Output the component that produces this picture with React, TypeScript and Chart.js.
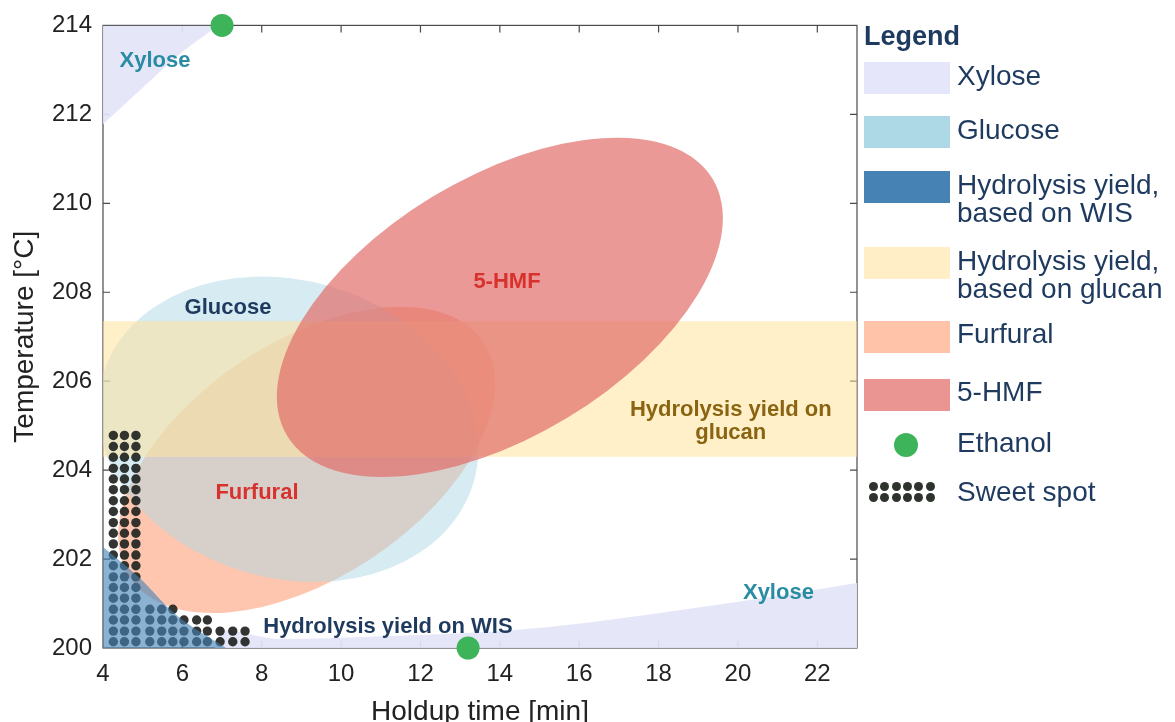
import React, { useEffect, useRef } from "react";
import { Chart, registerables } from "chart.js";

Chart.register(...registerables);

const FONT = "'Liberation Sans', Arial, Helvetica, sans-serif";

// axes
const X_RANGE = [4, 23];
const Y_RANGE = [200, 214];
const X_TICKS = [4, 6, 8, 10, 12, 14, 16, 18, 20, 22];
const Y_TICKS = [200, 202, 204, 206, 208, 210, 212, 214];

// Xylose regions
const XYLOSE_TOP_X = [4, 5, 6, 6.9];
const XYLOSE_TOP_Y = [211.78, 212.6, 213.4, 214];
const XYLOSE_BOTTOM_X = [6.8, 7.0, 8.5, 11.2, 14.3, 16.3, 18.2, 20.6, 23];
const XYLOSE_BOTTOM_Y = [200.0, 200.4, 200.2, 200.27, 200.4, 200.58, 200.81, 201.12, 201.46];

// Hydrolysis yield on WIS region
const WIS_X = [4, 4.89, 5.9, 7.1];
const WIS_Y = [202.27, 201.6, 200.7, 200.0];

// Hydrolysis yield on glucan band (temperature range)
const GLUCAN_BAND = [204.3, 207.35];

// ellipses: centre, end of major axis, end of minor axis
const ELLIPSE_NAMES = ["Furfural", "Glucose", "5-HMF"];
const ELLIPSE_CX = [9.13, 8.66, 14.0];
const ELLIPSE_CY = [204.23, 204.92, 207.66];
const ELLIPSE_MAJ_X = [13.58, 13.34, 19.36];
const ELLIPSE_MAJ_Y = [206.88, 203.73, 210.55];
const ELLIPSE_MIN_X = [10.79, 7.62, 15.69];
const ELLIPSE_MIN_Y = [202.03, 201.7, 205.17];
const ELLIPSE_COLORS = ["rgba(255,160,122,0.6)", "rgba(173,216,230,0.5)", "rgba(225,110,105,0.7)"];

// Ethanol optimum points
const ETHANOL_X = [7.0, 13.2];
const ETHANOL_Y = [214, 200];

// Sweet spot dot grid
const SWEET_X = [4.26, 4.54, 4.83, 5.18, 5.48, 5.76, 6.04, 6.36, 6.63, 6.95, 7.27, 7.58];
const SWEET_ROWS = [20, 20, 20, 4, 4, 4, 3, 3, 3, 2, 2, 2];
const SWEET_Y = [
  200.14, 200.38, 200.63, 200.87, 201.12, 201.36, 201.6, 201.85, 202.09, 202.34,
  202.58, 202.82, 203.07, 203.31, 203.56, 203.8, 204.04, 204.29, 204.53, 204.78,
];

// in-plot labels
const LABEL_TEXT = [
  ["Xylose"],
  ["Glucose"],
  ["5-HMF"],
  ["Furfural"],
  ["Hydrolysis yield on", "glucan"],
  ["Hydrolysis yield on WIS"],
  ["Xylose"],
];
const LABEL_X = [5.31, 7.15, 14.18, 7.88, 19.82, 11.18, 21.02];
const LABEL_Y = [213.2, 207.65, 208.23, 203.49, 205.1, 200.47, 201.23];
const LABEL_COLORS = ["#2a8ca2", "#1f3a5f", "#d8322e", "#d8322e", "#8a6410", "#1f3a5f", "#2a8ca2"];

// legend
const LEGEND_LABELS = [
  ["Xylose"],
  ["Glucose"],
  ["Hydrolysis yield,", "based on WIS"],
  ["Hydrolysis yield,", "based on glucan"],
  ["Furfural"],
  ["5-HMF"],
  ["Ethanol"],
  ["Sweet spot"],
];
const LEGEND_COLORS = ["#e6e6fa", "#add8e6", "#4682b4", "#ffeec6", "#ffc3aa", "#ea9592", "#3db35a", "#2e332e"];

const pts = (xs: number[], ys: number[]) => xs.map((x, i) => ({ x, y: ys[i] }));

export default function App() {
  const ref = useRef<HTMLCanvasElement | null>(null);

  useEffect(() => {
    const canvas = ref.current;
    if (!canvas) return;

    const sweet: { x: number; y: number }[] = [];
    SWEET_X.forEach((x, i) => {
      SWEET_Y.slice(0, SWEET_ROWS[i]).forEach((y) => sweet.push({ x, y }));
    });

    const framePlugin = {
      id: "frame",
      beforeDatasetsDraw(chart: any) {
        const { ctx, chartArea: a, scales } = chart;
        ctx.save();
        ctx.strokeStyle = "#4a4a4a";
        ctx.lineWidth = 1.2;
        ctx.strokeRect(a.left, a.top, a.right - a.left, a.bottom - a.top);
        ctx.beginPath();
        const tl = 7;
        X_TICKS.forEach((v) => {
          const p = scales.x.getPixelForValue(v);
          if (p <= a.left + 1 || p >= a.right - 1) return;
          ctx.moveTo(p, a.top);
          ctx.lineTo(p, a.top + tl);
          ctx.moveTo(p, a.bottom);
          ctx.lineTo(p, a.bottom - tl);
        });
        Y_TICKS.forEach((v) => {
          const p = scales.y.getPixelForValue(v);
          if (p <= a.top + 1 || p >= a.bottom - 1) return;
          ctx.moveTo(a.left, p);
          ctx.lineTo(a.left + tl, p);
          ctx.moveTo(a.right, p);
          ctx.lineTo(a.right - tl, p);
        });
        ctx.stroke();
        ctx.restore();
      },
    };

    const regionsPlugin = {
      id: "regions",
      afterDatasetDraw(chart: any, args: any) {
        if (args.index !== 1) return; // right after the bottom xylose region
        const { ctx, chartArea: a, scales } = chart;
        const px = (v: number) => scales.x.getPixelForValue(v);
        const py = (v: number) => scales.y.getPixelForValue(v);
        ctx.save();
        ctx.beginPath();
        ctx.rect(a.left, a.top, a.right - a.left, a.bottom - a.top);
        ctx.clip();
        const drawEllipse = (i: number) => {
          const cx = px(ELLIPSE_CX[i]);
          const cy = py(ELLIPSE_CY[i]);
          const ux = px(ELLIPSE_MAJ_X[i]) - cx;
          const uy = py(ELLIPSE_MAJ_Y[i]) - cy;
          const vx = px(ELLIPSE_MIN_X[i]) - cx;
          const vy = py(ELLIPSE_MIN_Y[i]) - cy;
          ctx.save();
          ctx.transform(ux, uy, vx, vy, cx, cy);
          ctx.beginPath();
          ctx.arc(0, 0, 1, 0, Math.PI * 2);
          ctx.restore();
          ctx.fillStyle = ELLIPSE_COLORS[i];
          ctx.fill();
        };
        drawEllipse(0);
        drawEllipse(1);
        // glucan band
        const yt = py(GLUCAN_BAND[1]);
        const yb = py(GLUCAN_BAND[0]);
        ctx.fillStyle = "rgba(255,228,159,0.55)";
        ctx.fillRect(a.left, yt, a.right - a.left, yb - yt);
        drawEllipse(2);
        ctx.restore();
      },
    };

    const labelsPlugin = {
      id: "labels",
      afterDatasetsDraw(chart: any) {
        const { ctx, scales } = chart;
        ctx.save();
        ctx.font = `bold 22px ${FONT}`;
        ctx.textAlign = "center";
        ctx.textBaseline = "middle";
        LABEL_TEXT.forEach((lines, i) => {
          const x = scales.x.getPixelForValue(LABEL_X[i]);
          const y = scales.y.getPixelForValue(LABEL_Y[i]);
          ctx.fillStyle = LABEL_COLORS[i];
          const lh = 23;
          lines.forEach((t, j) => {
            ctx.fillText(t, x, y + (j - (lines.length - 1) / 2) * lh);
          });
        });
        ctx.restore();
      },
    };

    const chart = new Chart(canvas, {
      type: "line",
      data: {
        datasets: [
          {
            label: "Xylose top",
            data: pts(XYLOSE_TOP_X, XYLOSE_TOP_Y),
            fill: "end",
            backgroundColor: "rgba(228,228,249,0.93)",
            borderWidth: 0,
            pointRadius: 0,
            tension: 0.3,
            order: 10,
          },
          {
            label: "Xylose bottom",
            data: pts(XYLOSE_BOTTOM_X, XYLOSE_BOTTOM_Y),
            fill: "start",
            backgroundColor: "rgba(228,228,249,0.93)",
            borderWidth: 0,
            pointRadius: 0,
            cubicInterpolationMode: "monotone",
            order: 9,
          },
          {
            label: "Sweet spot",
            type: "scatter",
            data: sweet,
            backgroundColor: "rgba(34,38,34,0.93)",
            borderWidth: 0,
            pointRadius: 4.7,
            showLine: false,
            order: 3,
          },
          {
            label: "Hydrolysis yield, based on WIS",
            data: pts(WIS_X, WIS_Y),
            fill: "start",
            backgroundColor: "rgba(70,130,180,0.62)",
            borderWidth: 0,
            pointRadius: 0,
            tension: 0.35,
            order: 2,
          },
          {
            label: "Ethanol",
            type: "scatter",
            data: pts(ETHANOL_X, ETHANOL_Y),
            backgroundColor: "#3db35a",
            borderWidth: 0,
            pointRadius: 11.5,
            clip: false as any,
            order: 1,
          },
        ] as any,
      },
      options: {
        animation: false,
        responsive: false,
        events: [],
        layout: { padding: { top: 22, right: 318, bottom: 0, left: 0 } },
        plugins: {
          legend: { display: false },
          tooltip: { enabled: false },
        },
        scales: {
          x: {
            type: "linear",
            min: X_RANGE[0],
            max: X_RANGE[1],
            afterBuildTicks: (s: any) => {
              s.ticks = X_TICKS.map((value) => ({ value }));
            },
            afterFit: (s: any) => {
              s.height = 74;
            },
            grid: { display: false, drawTicks: false },
            border: { display: false },
            ticks: {
              padding: 12,
              maxRotation: 0,
              autoSkip: false,
              color: "#222",
              font: { family: FONT, size: 24 },
            },
            title: {
              display: true,
              text: "Holdup time [min]",
              color: "#222",
              font: { family: FONT, size: 28, lineHeight: 0.8 },
              padding: { top: 0, bottom: -1 },
            },
          },
          y: {
            type: "linear",
            min: Y_RANGE[0],
            max: Y_RANGE[1],
            afterBuildTicks: (s: any) => {
              s.ticks = Y_TICKS.map((value) => ({ value }));
            },
            afterFit: (s: any) => {
              s.width = 103;
            },
            grid: { display: false, drawTicks: false },
            border: { display: false },
            ticks: {
              padding: 11,
              autoSkip: false,
              color: "#222",
              font: { family: FONT, size: 24 },
            },
            title: {
              display: true,
              text: "Temperature [°C]",
              color: "#222",
              font: { family: FONT, size: 28 },
              padding: { top: 8, bottom: 0 },
            },
          },
        },
      } as any,
      plugins: [framePlugin, regionsPlugin, labelsPlugin],
    });

    return () => chart.destroy();
  }, []);

  const patchTops = [62, 116, 171, 247, 321, 379];
  const textCenters = [76, 130, 185, 261, 334, 392, 443, 492];

  return (
    <div style={{ position: "fixed", left: 0, top: 0, width: 1175, height: 722, background: "#fff", fontFamily: FONT }}>
      <canvas ref={ref} width={1175} height={722} style={{ display: "block", width: 1175, height: 722 }} />
      <div
        style={{
          position: "absolute",
          left: 864,
          top: 19,
          fontSize: 27,
          lineHeight: "34px",
          fontWeight: "bold",
          color: "#1f3a5f",
        }}
      >
        Legend
      </div>
      {patchTops.map((t, i) => (
        <div
          key={"p" + i}
          style={{ position: "absolute", left: 864, top: t, width: 86, height: 32, background: LEGEND_COLORS[i] }}
        />
      ))}
      <div
        style={{
          position: "absolute",
          left: 894,
          top: 433,
          width: 24,
          height: 24,
          borderRadius: "50%",
          background: LEGEND_COLORS[6],
        }}
      />
      {[486.7, 497.3].map((cy, r) =>
        [873.3, 884.7, 896, 907.3, 918.7, 930].map((cx, c) => (
          <div
            key={`d${r}-${c}`}
            style={{
              position: "absolute",
              left: cx - 4.5,
              top: cy - 4.5,
              width: 9,
              height: 9,
              borderRadius: "50%",
              background: LEGEND_COLORS[7],
            }}
          />
        ))
      )}
      {LEGEND_LABELS.map((lines, i) => (
        <div
          key={"t" + i}
          style={{
            position: "absolute",
            left: 957,
            top: textCenters[i] - 14,
            fontSize: 28,
            lineHeight: "28px",
            color: "#1f3a5f",
            whiteSpace: "nowrap",
          }}
        >
          {lines.map((l, j) => (
            <div key={j}>{l}</div>
          ))}
        </div>
      ))}
    </div>
  );
}
